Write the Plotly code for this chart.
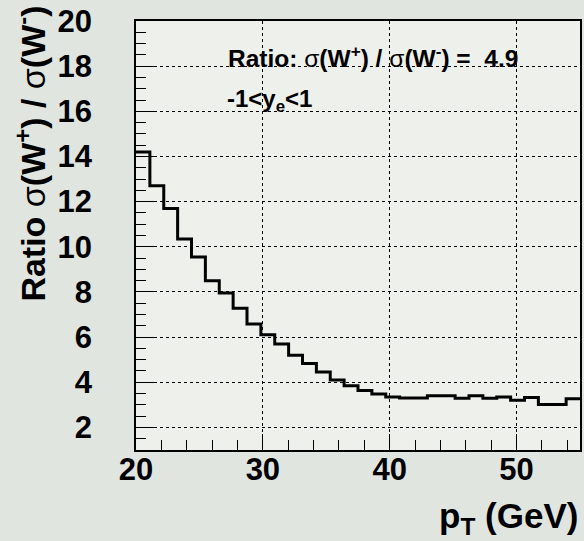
import plotly.graph_objects as go

# ---- data ----
x_min, x_max = 20.0, 55.0
n_bins = 32
ratio_values = [14.2, 12.7, 11.7, 10.35, 9.55, 8.5, 7.95, 7.28, 6.58, 6.1,
                5.7, 5.2, 4.83, 4.45, 4.1, 3.85, 3.63, 3.48, 3.35, 3.3,
                3.3, 3.4, 3.4, 3.29, 3.4, 3.29, 3.35, 3.2, 3.32, 3.01,
                3.01, 3.27]
x_tickvals = [20, 30, 40, 50]
y_tickvals = [2, 4, 6, 8, 10, 12, 14, 16, 18, 20]

bin_w = (x_max - x_min) / n_bins
edges = [x_min + i * bin_w for i in range(n_bins + 1)]
step_y = ratio_values + [ratio_values[-1]]

FONT = "Liberation Sans"
SIG = '<span style="font-weight:normal">σ</span>'

fig = go.Figure()
fig.add_trace(go.Scatter(
    x=edges, y=step_y, mode="lines", line=dict(shape="hv", color="black", width=3),
    hoverinfo="skip", showlegend=False))

axis_common = dict(
    showline=True, linecolor="black", linewidth=1.5, mirror=True,
    ticks="inside", tickcolor="black", tickwidth=1,
    showgrid=True, gridcolor="black", griddash="dot", gridwidth=1,
    zeroline=False,
    tickfont=dict(family=FONT, size=31, color="black", weight="bold"),
)

fig.update_xaxes(range=[x_min, x_max], tickvals=x_tickvals, ticklen=16,
                 ticklabelstandoff=-9,
                 minor=dict(dtick=2, tick0=20, ticks="inside", ticklen=10,
                            tickcolor="black", showgrid=False),
                 **axis_common)
fig.update_yaxes(range=[1, 20], tickvals=y_tickvals, ticklen=18,
                 ticklabelstandoff=36,
                 minor=dict(dtick=0.5, tick0=0, ticks="inside", ticklen=10,
                            tickcolor="black", showgrid=False),
                 **axis_common)

fig.add_annotation(
    text="Ratio " + SIG + "(W<sup>+</sup>) / " + SIG + "(W<sup>-</sup>)", textangle=-90,
    xref="paper", yref="paper", x=-0.237, y=1.04, xanchor="center", yanchor="top",
    showarrow=False, font=dict(family=FONT, size=34, color="black", weight="bold"))
fig.add_annotation(
    text="p<sub>T</sub> (GeV)",
    xref="paper", yref="paper", x=1.0, y=-0.158, xanchor="right", yanchor="middle",
    showarrow=False, font=dict(family=FONT, size=35, color="black", weight="bold"))
fig.add_annotation(
    text="Ratio: " + SIG + "(W<sup>+</sup>) / " + SIG + "(W<sup>-</sup>) =  4.9",
    xref="paper", yref="paper", x=0.202, y=0.918, xanchor="left", yanchor="middle",
    showarrow=False, font=dict(family=FONT, size=24.5, color="black", weight="bold"))
fig.add_annotation(
    text="-1&lt;y<sub>e</sub>&lt;1",
    xref="paper", yref="paper", x=0.2, y=0.815, xanchor="left", yanchor="middle",
    showarrow=False, font=dict(family=FONT, size=24, color="black", weight="bold"))

fig.update_layout(
    width=584, height=541,
    margin=dict(l=136, r=2, t=21, b=91),
    paper_bgcolor="#e1e5df", plot_bgcolor="#eef0ec",
)

fig.write_html("out.html")
